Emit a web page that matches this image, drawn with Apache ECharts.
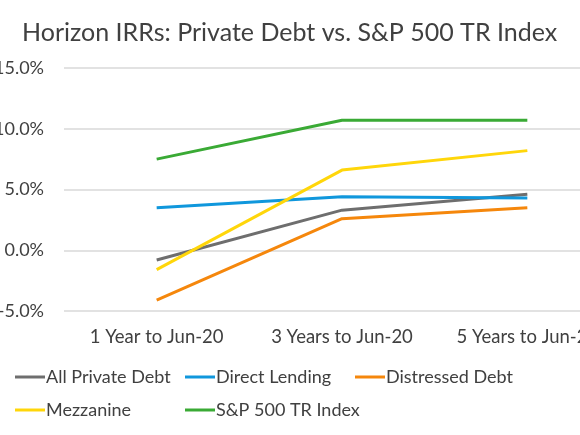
<!DOCTYPE html>
<html>
<head>
<meta charset="utf-8">
<script src="https://cdn.jsdelivr.net/npm/echarts@6/dist/echarts.min.js"></script>
<style>
  html, body { margin: 0; padding: 0; background: #fff; }
  #main { width: 580px; height: 435px; }
</style>
</head>
<body>
<div id="main"></div>
<script>
// horizons and IRR values (%)
var categories = ['1 Year to Jun-20', '3 Years to Jun-20', '5 Years to Jun-20'];
var allPrivateDebt = [-0.8, 3.3, 4.6];
var directLending = [3.5, 4.4, 4.3];
var distressedDebt = [-4.1, 2.6, 3.5];
var mezzanine = [-1.6, 6.6, 8.2];
var sp500 = [7.5, 10.7, 10.7];
var yTicks = { min: -5, max: 15, step: 5 };

var textColor = '#404040';
var fontName = 'Lato';

function line(name, data, color) {
  return {
    name: name,
    type: 'line',
    data: data,
    symbol: 'none',
    lineStyle: { width: 3, color: color },
    itemStyle: { color: color }
  };
}

// one legend per column so the second row lines up under the first
function legendCol(left, names) {
  return {
    orient: 'vertical',
    left: left,
    top: 368,
    padding: 0,
    itemWidth: 30,
    itemHeight: 3,
    itemGap: 15,
    icon: 'rect',
    textStyle: { fontSize: 18, color: textColor, fontFamily: fontName, padding: [0, 0, 0, -4] },
    data: names
  };
}

var myChart = echarts.init(document.getElementById('main'));

var option = {
  animation: false,
  title: {
    text: 'Horizon IRRs: Private Debt vs. S&P 500 TR Index',
    left: 17,
    top: 15,
    textStyle: { fontSize: 25, fontWeight: 'normal', color: textColor, fontFamily: fontName }
  },
  legend: [
    legendCol(15, ['All Private Debt', 'Mezzanine']),
    legendCol(185, ['Direct Lending', 'S&P 500 TR Index']),
    legendCol(355, ['Distressed Debt'])
  ],
  // the plot runs past the right edge of the picture, as in the reference
  grid: { left: 64, width: 556, top: 68, bottom: 124, containLabel: false, outerBoundsMode: 'none' },
  xAxis: {
    type: 'category',
    data: categories,
    boundaryGap: true,
    axisLine: { show: false },
    axisTick: { show: false },
    axisLabel: { fontSize: 18.5, color: textColor, fontFamily: fontName, margin: 17, interval: 0 }
  },
  yAxis: {
    type: 'value',
    min: yTicks.min,
    max: yTicks.max,
    interval: yTicks.step,
    axisLine: { show: false },
    axisTick: { show: false },
    splitLine: { lineStyle: { color: '#d9d9d9', width: 1.5 } },
    axisLabel: {
      fontSize: 18, color: textColor, fontFamily: fontName, margin: 20,
      formatter: function (v) { return v.toFixed(1) + '%'; }
    }
  },
  series: [
    line('All Private Debt', allPrivateDebt, '#6e6e6e'),
    line('Direct Lending', directLending, '#1097dc'),
    line('Distressed Debt', distressedDebt, '#f5870c'),
    line('Mezzanine', mezzanine, '#ffd60a'),
    line('S&P 500 TR Index', sp500, '#3aaa35')
  ]
};

myChart.setOption(option);
</script>
</body>
</html>
